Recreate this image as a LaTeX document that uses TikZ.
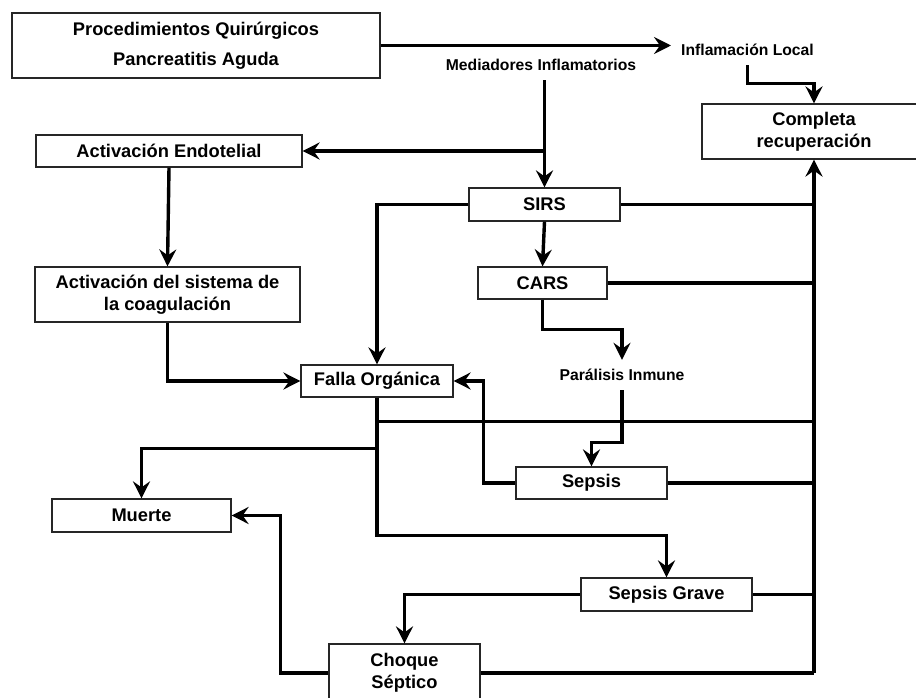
\documentclass[tikz,border=0pt]{standalone}
\usepackage{fontspec}
\setmainfont{Liberation Sans}
\usepackage{tikz}
\usetikzlibrary{arrows.meta,calc}

\begin{document}
\begin{tikzpicture}[
  x=1pt, y=-1pt,
  every node/.style={font=\bfseries\fontsize{18.3}{22}\selectfont},
  flowbox/.style={draw=black!85, fill=white, line width=1.2pt, align=center, inner sep=0pt},
  flowlabel/.style={font=\bfseries\fontsize{15.7}{19}\selectfont, inner ysep=0pt, inner xsep=10pt, minimum height=30pt},
  arrow/.style={-{Stealth[length=17pt,width=17pt,inset=6pt]}, line width=3.4pt},
  link/.style={line width=3.4pt}
]
\useasboundingbox (0,0) rectangle (916,698);

\node[flowbox, minimum width=368pt, minimum height=65pt] (proc) at (196,45.5) {Procedimientos Quirúrgicos\\[8pt]Pancreatitis Aguda};
\node[flowlabel] (mediadores) at (541,65) {Mediadores Inflamatorios};
\node[flowlabel] (inflocal) at (747.5,50) {Inflamación Local};
\node[flowbox, minimum width=224pt, minimum height=55pt] (completa) at (814,131.5) {Completa\\recuperación};
\node[flowbox, minimum width=266pt, minimum height=32pt] (endo) at (169,151) {Activación Endotelial};
\node[flowbox, minimum width=151pt, minimum height=33pt] (sirs) at (544.5,204.5) {SIRS};
\node[flowbox, minimum width=265pt, minimum height=55pt] (coag) at (167.5,294.5) {Activación del sistema de\\la coagulación};
\node[flowbox, minimum width=129pt, minimum height=32pt] (cars) at (542.5,283) {CARS};
\node[flowlabel] (paralisis) at (622,375) {Parálisis Inmune};
\node[flowbox, minimum width=152pt, minimum height=32pt] (falla) at (377,381) {Falla Orgánica};
\node[flowbox, minimum width=151pt, minimum height=32pt] (sepsis) at (591.5,483) {Sepsis};
\node[flowbox, minimum width=179pt, minimum height=33pt] (muerte) at (141.5,515.5) {Muerte};
\node[flowbox, minimum width=171pt, minimum height=33pt] (grave) at (666.5,594.5) {Sepsis Grave};
\node[flowbox, minimum width=151pt, minimum height=58pt] (choque) at (404.5,673) {Choque\\Séptico};

% top of the cascade
\draw[arrow] (proc.east) -- (proc.east -| inflocal.west);
\draw[arrow] (inflocal.south) |- ($(completa.north)+(0,-20)$) -- (completa.north);
\draw[arrow] (mediadores.south -| sirs.north) -- (sirs.north);
\draw[arrow] (sirs.north |- endo.east) -- (endo.east);
\draw[arrow] (endo.south) -- (coag.north);
\draw[arrow] (coag.south) |- (falla.west);
\draw[arrow] (sirs.west) -| (falla.north);
\draw[arrow] (sirs.south) -- (cars.north);
\draw[arrow] (cars.south) -- ++(0,30) -| (paralisis.north);
\draw[arrow] (paralisis.south) |- ($(sepsis.north)+(0,-24)$) -- (sepsis.north);
\draw[arrow] (sepsis.west) -- ++(-32,0) |- (falla.east);

% from organ failure
\draw[arrow] (falla.south) |- ($(grave.north)+(0,-42)$) -- (grave.north);
\draw[link] (falla.south) ++(0,24) coordinate (fc) -- (fc -| completa.south);
\draw[arrow] (falla.south) ++(0,51) -| (muerte.north);
\draw[arrow] (grave.west) -| (choque.north);
\draw[arrow] (choque.west) -- ++(-48,0) |- (muerte.east);

% recovery bus
\draw[link] (sirs.east) -- (sirs.east -| completa.south);
\draw[link] (cars.east) -- (cars.east -| completa.south);
\draw[link] (sepsis.east) -- (sepsis.east -| completa.south);
\draw[link] (grave.east) -- (grave.east -| completa.south);
\draw[link] (choque.east) -- (choque.east -| completa.south);
\draw[arrow] (choque.east -| completa.south) -- (completa.south);
\end{tikzpicture}
\end{document}
